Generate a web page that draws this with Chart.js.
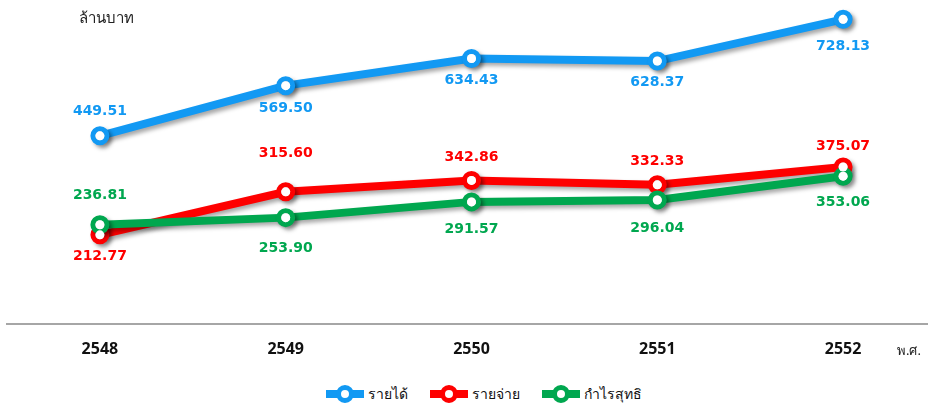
<!DOCTYPE html>
<html>
<head>
<meta charset="utf-8">
<script src="https://cdn.jsdelivr.net/npm/chart.js@4"></script>
<style>
  html, body { margin: 0; padding: 0; background: #fff; overflow: hidden; width: 928px; height: 407px; }
  .wrap { position: relative; width: 936px; height: 375px; }
  .unit { position: absolute; left: 79px; top: 6px; font: 15px "Noto Sans", sans-serif; color: #222; }
  .era { position: absolute; left: 897px; top: 340px; font: 13px "Noto Sans", sans-serif; color: #222; }
  .legend { position: absolute; left: 0; top: 383px; width: 968px; display: flex; justify-content: center; font: 14px "Noto Sans", sans-serif; color: #111; }
  .item { display: flex; align-items: center; margin: 0 11px; }
  .mk { position: relative; width: 38px; height: 8px; margin-right: 4px; }
  .mk::after { content: ''; position: absolute; left: 50%; top: 50%; width: 8px; height: 8px; border: 5px solid; border-color: inherit; border-radius: 50%; background: #fff; transform: translate(-50%, -50%); }
</style>
</head>
<body>
<div class="wrap"><canvas id="chart" width="936" height="375"></canvas></div>
<div class="unit">ล้านบาท</div>
<div class="era">พ.ศ.</div>
<div class="legend" id="legend"></div>
<script>
// ===== DATA =====
const years = ['2548', '2549', '2550', '2551', '2552'];
const revenue = [449.51, 569.50, 634.43, 628.37, 728.13];
const expense = [212.77, 315.60, 342.86, 332.33, 375.07];
const profit = [236.81, 253.90, 291.57, 296.04, 353.06];
const seriesNames = ['รายได้', 'รายจ่าย', 'กำไรสุทธิ'];

const BLUE = '#1299f3', RED = '#fe0000', GREEN = '#00a74f';

// shadow under lines + markers, then clean white holes
const shadowPlugin = {
    id: 'shadow',
    beforeDatasetsDraw(chart) {
        const c = chart.ctx;
        c.save();
        c.shadowColor = 'rgba(0,0,0,0.35)';
        c.shadowBlur = 4;
        c.shadowOffsetX = 3;
        c.shadowOffsetY = 3;
    },
    afterDatasetsDraw(chart) {
        const c = chart.ctx;
        c.restore();
        c.save();
        c.fillStyle = '#fff';
        // same drawing order as chart.js (highest order first)
        chart.getSortedVisibleDatasetMetas().slice().reverse().forEach(meta => {
            meta.data.forEach(pt => {
                c.beginPath();
                c.arc(pt.x, pt.y, 4.5, 0, Math.PI * 2);
                c.fill();
            });
        });
        c.restore();
    }
};

// value labels above / below points
const valueLabels = {
    id: 'valueLabels',
    afterDatasetsDraw(chart) {
        const c = chart.ctx;
        c.save();
        c.font = 'bold 14px "DejaVu Sans"';
        c.textAlign = 'center';
        c.textBaseline = 'middle';
        chart.data.datasets.forEach((ds, i) => {
            const meta = chart.getDatasetMeta(i);
            c.fillStyle = ds.borderColor;
            meta.data.forEach((pt, j) => {
                c.fillText(ds.data[j].toFixed(2), pt.x, pt.y + ds.labelOffset[j]);
            });
        });
        c.restore();
    }
};

function line(label, data, color, order, labelOffset) {
    return {
        label, data, order, labelOffset,
        borderColor: color, backgroundColor: color,
        borderWidth: 8, tension: 0, fill: false, clip: false,
        pointRadius: 7, pointHoverRadius: 7, pointBorderWidth: 5,
        pointBackgroundColor: '#fff', pointBorderColor: color
    };
}

new Chart(document.getElementById('chart'), {
    type: 'line',
    data: {
        labels: years,
        datasets: [
            line(seriesNames[0], revenue, BLUE, 0, [-24, 23, 22, 21, 27]),
            line(seriesNames[1], expense, RED, 2, [22, -38, -23, -23, -21]),
            line(seriesNames[2], profit, GREEN, 1, [-29, 31, 27, 28, 26])
        ]
    },
    options: {
        responsive: false, animation: false,
        layout: { autoPadding: false, padding: { left: 7, top: 6, right: 0, bottom: 0 } },
        plugins: { legend: { display: false }, tooltip: { enabled: false } },
        scales: {
            x: {
                offset: true,
                grid: { display: false, drawTicks: false },
                border: { display: true, color: '#a6a6a6', width: 2 },
                ticks: { color: '#111', padding: 16, font: { family: 'Open Sans', weight: 'bold', size: 16 } }
            },
            y: { display: false, min: 0, max: 760 }
        }
    },
    plugins: [shadowPlugin, valueLabels]
});

// legend
const legend = document.getElementById('legend');
[BLUE, RED, GREEN].forEach((col, i) => {
    legend.innerHTML += `<div class="item"><span class="mk" style="background:${col};border-color:${col}"></span>${seriesNames[i]}</div>`;
});
</script>
</body>
</html>
